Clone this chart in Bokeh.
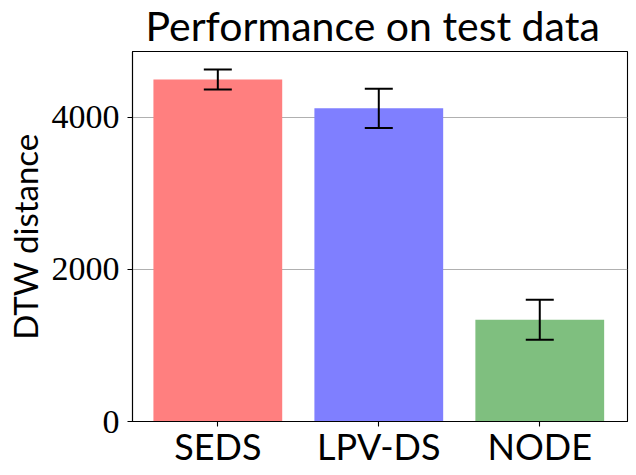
from bokeh.plotting import figure
from bokeh.models import Range1d, FixedTicker, ColumnDataSource, Whisker, TeeHead
from bokeh.embed import file_html
from bokeh.resources import INLINE

# ---- data ----
methods = ["SEDS", "LPV-DS", "NODE"]
dtw_mean = [4500, 4120, 1340]
dtw_err = [132, 257, 263]
bar_colors = ["#ff7f7f", "#7f7fff", "#7fbf7f"]
y_ticks = [0, 2000, 4000]

X0, X1 = -0.53, 2.545
Y0, Y1 = 0, 4868

xs = list(range(len(methods)))
lower = [m - e for m, e in zip(dtw_mean, dtw_err)]
upper = [m + e for m, e in zip(dtw_mean, dtw_err)]
src = ColumnDataSource(dict(x=xs, top=dtw_mean, color=bar_colors, lower=lower, upper=upper))

p = figure(width=636, height=475, output_backend="svg", toolbar_location=None,
           x_range=Range1d(X0, X1), y_range=Range1d(Y0, Y1),
           title="Performance on test data",
           min_border_left=132, min_border_right=9, min_border_bottom=54, min_border_top=51)

p.vbar(x="x", top="top", bottom=0, width=0.8, fill_color="color", line_color=None, source=src)
p.add_layout(Whisker(source=src, base="x", lower="lower", upper="upper", level="overlay",
                     line_color="black", line_width=2,
                     upper_head=TeeHead(size=28, line_color="black", line_width=2),
                     lower_head=TeeHead(size=28, line_color="black", line_width=2)))

p.title.text_font = "Lato"
p.title.text_font_size = "41px"
p.title.text_font_style = "normal"
p.title.align = "left"
p.title.vertical_align = "top"
p.title.offset = 13
p.title.text_color = "black"
p.title.standoff = 0

p.outline_line_color = "black"
p.outline_line_width = 1.1
p.background_fill_color = "white"
p.border_fill_color = "white"

p.xgrid.visible = False
p.ygrid.grid_line_color = "#b0b0b0"
p.ygrid.grid_line_width = 1
p.ygrid.ticker = FixedTicker(ticks=y_ticks)

p.xaxis.ticker = FixedTicker(ticks=xs)
p.xaxis.major_label_overrides = {i: m for i, m in enumerate(methods)}
p.yaxis.ticker = FixedTicker(ticks=y_ticks)
p.yaxis.axis_label = "DTW distance"

for ax in (p.xaxis[0], p.yaxis[0]):
    ax.axis_line_color = "black"
    ax.axis_line_width = 1.1
    ax.major_tick_line_color = "black"
    ax.major_tick_line_width = 1.1
    ax.major_tick_out = 5
    ax.major_tick_in = 0
    ax.minor_tick_line_color = None
    ax.major_label_text_color = "black"

p.xaxis.major_label_text_font = "Lato"
p.xaxis.major_label_text_font_size = "36px"
p.xaxis.major_label_standoff = -3
p.yaxis.major_label_text_font = "Liberation Serif"
p.yaxis.major_label_text_font_size = "34px"
p.yaxis.major_label_standoff = 8
p.yaxis.axis_label_text_font = "Lato"
p.yaxis.axis_label_text_font_size = "33px"
p.yaxis.axis_label_text_font_style = "normal"
p.yaxis.axis_label_text_color = "black"
p.yaxis.axis_label_standoff = 4

open("out.html", "w").write(file_html(p, INLINE))
